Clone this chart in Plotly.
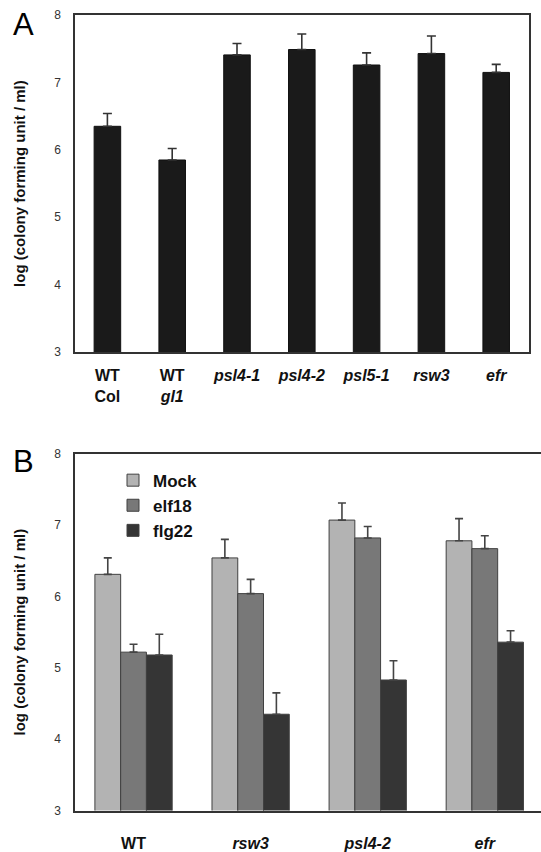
import plotly.graph_objects as go

# Panel A data
cats_a = ["WT<br>Col", "WT<br><i>gl1</i>", "<i>psl4-1</i>", "<i>psl4-2</i>",
          "<i>psl5-1</i>", "<i>rsw3</i>", "<i>efr</i>"]
vals_a = [6.35, 5.85, 7.41, 7.49, 7.26, 7.43, 7.15]
err_a = [0.19, 0.17, 0.17, 0.23, 0.18, 0.26, 0.12]

# Panel B data
cats_b = ["WT", "<i>rsw3</i>", "<i>psl4-2</i>", "<i>efr</i>"]
mock = [6.31, 6.54, 7.07, 6.78]
mock_err = [0.23, 0.26, 0.24, 0.31]
elf18 = [5.22, 6.04, 6.82, 6.67]
elf18_err = [0.11, 0.20, 0.16, 0.18]
flg22 = [5.18, 4.35, 4.83, 5.36]
flg22_err = [0.29, 0.30, 0.27, 0.16]

y_ticks = [3, 4, 5, 6, 7, 8]

FONT = "Liberation Sans, Arial, Helvetica, sans-serif"
AX = "#333333"

fig = go.Figure()

fig.add_trace(go.Bar(
    x=cats_a, y=vals_a, xaxis="x", yaxis="y", width=0.41,
    marker=dict(color="#1a1a1a", line=dict(color="#111111", width=1)),
    error_y=dict(type="data", symmetric=False, array=err_a,
                 arrayminus=[0] * len(err_a), color="#333333",
                 thickness=1.6, width=4.5),
    showlegend=False,
))

for name, vals, errs, col in [("Mock", mock, mock_err, "#b3b3b3"),
                              ("elf18", elf18, elf18_err, "#787878"),
                              ("flg22", flg22, flg22_err, "#353535")]:
    fig.add_trace(go.Bar(
        x=cats_b, y=vals, name=name, xaxis="x2", yaxis="y2",
        marker=dict(color=col, line=dict(color="#404040", width=1)),
        error_y=dict(type="data", symmetric=False, array=errs,
                     arrayminus=[0] * len(errs), color="#444444",
                     thickness=1.6, width=4),
    ))

H = 852.0
W_PLOT = 466.0

axis_common = dict(showline=True, linecolor=AX, linewidth=1.5, showgrid=False,
                   zeroline=False, ticks="")
ytitle_font = dict(size=15, color="#111111", weight="bold")

fig.update_layout(
    width=541, height=852,
    margin=dict(l=75, r=0, t=0, b=0),
    paper_bgcolor="white", plot_bgcolor="white",
    font=dict(family=FONT, color="#222222"),
    barmode="group", bargap=0.34, bargroupgap=0,
    xaxis=dict(domain=[0, (528.6 - 75) / W_PLOT], anchor="y", range=[-0.5, 6.5],
               mirror=True, tickfont=dict(size=16, color="#111111", weight="bold"),
               ticklabelstandoff=8, **axis_common),
    yaxis=dict(domain=[1 - 355.3 / H, 1 - 15.3 / H], anchor="x", range=[3, 8],
               tickvals=y_ticks, mirror=True, ticklabelstandoff=10,
               tickfont=dict(size=12, color="#333333"),
               title=dict(text="log (colony forming unit / ml)",
                          font=ytitle_font, standoff=25),
               automargin=False, **axis_common),
    xaxis2=dict(domain=[0, 1], anchor="y2", range=[-0.5, 3.48], mirror=True,
                tickfont=dict(size=16, color="#111111", weight="bold"),
                ticklabelstandoff=17, **axis_common),
    yaxis2=dict(domain=[1 - 818.3 / H, 1 - 458 / H], anchor="x2", range=[3, 8],
                tickvals=y_ticks, ticklabelstandoff=10,
                tickfont=dict(size=12, color="#333333"),
                title=dict(text="log (colony forming unit / ml)",
                           font=ytitle_font, standoff=25),
                automargin=False, **axis_common),
    legend=dict(x=(113 - 75) / W_PLOT, y=1 - 467 / H, xanchor="left", yanchor="top",
                bgcolor="rgba(0,0,0,0)", font=dict(size=17, color="#111111", weight="bold"),
                itemwidth=30, tracegroupgap=0),
    annotations=[
        dict(text="A", x=(23.7 - 75) / W_PLOT, y=1 - 25 / H, xref="paper", yref="paper",
             showarrow=False, font=dict(size=31, color="#000000"),
             xanchor="center", yanchor="middle"),
        dict(text="B", x=(23.7 - 75) / W_PLOT, y=1 - 466 / H, xref="paper", yref="paper",
             showarrow=False, font=dict(size=31, color="#000000"),
             xanchor="center", yanchor="middle"),
    ],
)

fig.write_html("out.html", config={"displayModeBar": False},
               post_script="document.body.style.margin='0';document.body.style.overflow='hidden';")
